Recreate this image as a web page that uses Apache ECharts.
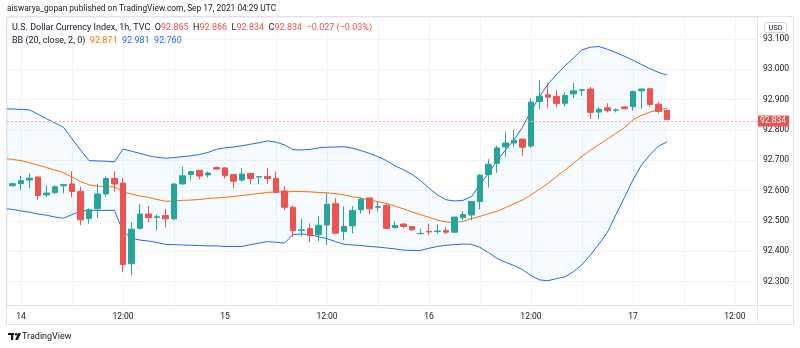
<!DOCTYPE html>
<html><head><meta charset="utf-8">
<script src="https://cdn.jsdelivr.net/npm/echarts@6/dist/echarts.min.js"></script>
<style>html,body{margin:0;padding:0;background:#fff}#c{width:800px;height:348px}</style>
</head><body><div id="c"></div>
<script>
// ---- data (hourly bars, first bar = 2021-09-13 22:00 UTC) ----
const firstBar = '2021-09-13T22:00:00Z';
const open = [92.619,92.616,92.623,92.635,92.645,92.586,92.594,92.616,92.622,92.597,92.508,92.540,92.589,92.640,92.625,92.359,92.476,92.523,92.512,92.518,92.507,92.622,92.653,92.667,92.652,92.676,92.675,92.653,92.635,92.657,92.645,92.647,92.640,92.599,92.545,92.469,92.475,92.455,92.487,92.557,92.465,92.484,92.537,92.576,92.545,92.551,92.478,92.490,92.482,92.458,92.466,92.465,92.469,92.463,92.511,92.520,92.564,92.653,92.690,92.744,92.757,92.770,92.747,92.894,92.916,92.911,92.888,92.919,92.931,92.935,92.859,92.873,92.865,92.876,92.877,92.929,92.936,92.885,92.865];
const high = [92.620,92.625,92.649,92.656,92.646,92.618,92.617,92.622,92.664,92.613,92.542,92.622,92.646,92.664,92.642,92.495,92.556,92.549,92.521,92.540,92.623,92.679,92.664,92.668,92.663,92.680,92.677,92.655,92.675,92.658,92.648,92.675,92.663,92.615,92.552,92.507,92.492,92.516,92.592,92.575,92.548,92.549,92.578,92.577,92.565,92.560,92.498,92.493,92.483,92.474,92.491,92.489,92.480,92.514,92.532,92.565,92.655,92.704,92.749,92.793,92.800,92.771,92.905,92.965,92.954,92.932,92.924,92.955,92.934,92.942,92.876,92.888,92.871,92.878,92.930,92.936,92.938,92.892,92.866];
const low = [92.611,92.614,92.603,92.608,92.570,92.578,92.589,92.591,92.578,92.486,92.491,92.510,92.580,92.597,92.331,92.320,92.472,92.495,92.468,92.479,92.503,92.620,92.635,92.637,92.643,92.670,92.640,92.608,92.630,92.621,92.621,92.622,92.593,92.536,92.448,92.448,92.430,92.433,92.421,92.459,92.437,92.459,92.524,92.522,92.532,92.473,92.476,92.476,92.467,92.457,92.454,92.459,92.457,92.461,92.503,92.502,92.538,92.611,92.659,92.712,92.745,92.715,92.741,92.869,92.873,92.874,92.878,92.905,92.913,92.836,92.836,92.858,92.858,92.869,92.864,92.870,92.877,92.855,92.834];
const close = [92.613,92.623,92.633,92.641,92.584,92.592,92.613,92.620,92.597,92.504,92.537,92.589,92.640,92.622,92.357,92.473,92.523,92.511,92.514,92.507,92.622,92.649,92.663,92.648,92.658,92.671,92.649,92.631,92.655,92.640,92.646,92.640,92.594,92.545,92.468,92.471,92.452,92.486,92.555,92.460,92.482,92.535,92.571,92.540,92.547,92.475,92.485,92.482,92.471,92.459,92.464,92.467,92.463,92.513,92.521,92.564,92.651,92.687,92.741,92.757,92.766,92.743,92.892,92.911,92.908,92.887,92.914,92.929,92.933,92.858,92.868,92.864,92.866,92.870,92.927,92.935,92.884,92.861,92.834];
const bbBasis = [92.707,92.703,92.699,92.692,92.684,92.676,92.668,92.659,92.645,92.630,92.619,92.615,92.613,92.612,92.596,92.589,92.582,92.578,92.571,92.565,92.566,92.568,92.569,92.571,92.574,92.576,92.578,92.581,92.584,92.587,92.591,92.594,92.596,92.596,92.597,92.597,92.596,92.594,92.593,92.590,92.586,92.580,92.575,92.569,92.564,92.558,92.549,92.540,92.530,92.521,92.512,92.503,92.497,92.495,92.499,92.508,92.515,92.524,92.532,92.544,92.557,92.569,92.586,92.605,92.624,92.646,92.668,92.690,92.713,92.733,92.752,92.770,92.789,92.808,92.833,92.848,92.859,92.867,92.871];
const bbUpper = [92.870,92.869,92.868,92.866,92.852,92.837,92.823,92.809,92.771,92.734,92.699,92.698,92.697,92.695,92.737,92.730,92.723,92.715,92.710,92.707,92.709,92.712,92.715,92.719,92.726,92.736,92.741,92.744,92.748,92.753,92.758,92.764,92.760,92.751,92.735,92.734,92.736,92.741,92.743,92.744,92.745,92.740,92.732,92.723,92.712,92.699,92.682,92.669,92.654,92.633,92.609,92.586,92.570,92.566,92.568,92.580,92.621,92.657,92.698,92.734,92.767,92.809,92.862,92.909,92.951,92.982,93.011,93.037,93.064,93.073,93.075,93.066,93.055,93.043,93.030,93.016,93.002,92.990,92.981];
const bbLower = [92.541,92.538,92.533,92.529,92.523,92.519,92.513,92.509,92.521,92.533,92.535,92.535,92.535,92.535,92.465,92.444,92.437,92.434,92.429,92.423,92.422,92.421,92.420,92.419,92.418,92.418,92.416,92.416,92.416,92.422,92.427,92.432,92.430,92.427,92.455,92.457,92.455,92.448,92.442,92.432,92.423,92.421,92.419,92.416,92.414,92.411,92.408,92.404,92.403,92.403,92.410,92.416,92.420,92.422,92.424,92.423,92.413,92.396,92.377,92.364,92.353,92.340,92.320,92.306,92.303,92.310,92.316,92.333,92.356,92.388,92.424,92.463,92.521,92.577,92.635,92.684,92.718,92.747,92.760];
const lastPrice = 92.834;
const yTickLabels = ['92.300','92.400','92.500','92.600','92.700','92.800','92.900','93.000','93.100'];
const headerText = 'aiswarya_gopan published on TradingView.com, Sep 17, 2021 04:29 UTC';
const legendTitle = 'U.S. Dollar Currency Index, 1h, TVC';
const ohlcLegend = {O: '92.865', H: '92.866', L: '92.834', C: '92.834', chg: '\u22120.027 (\u22120.03%)'};
const bbLegend = {name: 'BB (20, close, 2, 0)', basis: '92.871', upper: '92.981', lower: '92.760'};

// ---- build ----
const HOUR = 3600e3;
const t0 = Date.parse(firstBar);
const times = open.map((_, i) => t0 + i * HOUR);
const day14 = Date.parse('2021-09-14T00:00:00Z');
const candles = times.map((t, i) => [t, open[i], close[i], low[i], high[i]]);
const lowerData = times.map((t, i) => [t, bbLower[i]]);
const bandData = times.map((t, i) => [t, +(bbUpper[i] - bbLower[i]).toFixed(4)]);
const basisData = times.map((t, i) => [t, bbBasis[i]]);

const FONT = 'Roboto, "Liberation Sans", sans-serif';
const UP = '#26a69a', DOWN = '#ef5350';
const chart = echarts.init(document.getElementById('c'), null, {renderer: 'canvas'});
chart.setOption({
  animation: false,
  useUTC: true,
  backgroundColor: '#ffffff',
  textStyle: {fontFamily: FONT},
  grid: {left: 7, right: 43, top: 17, bottom: 43, containLabel: false, outerBoundsMode: 'none'},
  xAxis: {
    type: 'time',
    min: day14 - 1.65 * HOUR,
    max: day14 + 86.6 * HOUR,
    minInterval: 12 * HOUR, maxInterval: 12 * HOUR,
    axisLine: {show: false}, axisTick: {show: false},
    axisLabel: {
      showMinLabel: false, showMaxLabel: false,
      fontSize: 8.5, color: '#131722', margin: 7, fontFamily: FONT, hideOverlap: false,
      formatter: function (v) {
        const d = new Date(v);
        if (d.getUTCMinutes() !== 0) return '';
        const h = d.getUTCHours();
        if (h === 0) return String(d.getUTCDate());
        if (h === 12) return '12:00';
        return '';
      }
    },
    splitLine: {show: true, lineStyle: {color: '#f0f3fa', width: 1}}
  },
  yAxis: {
    type: 'value', position: 'right', scale: true,
    min: 92.2231, max: 93.1724, splitNumber: 9,
    axisLine: {show: false}, axisTick: {show: false},
    axisLabel: {
      showMinLabel: false, showMaxLabel: false,
      fontSize: 8.5, color: '#131722', margin: 6, fontFamily: FONT,
      formatter: function (v) {
        const s = v.toFixed(3);
        return yTickLabels.indexOf(s) >= 0 ? s : '';
      }
    },
    splitLine: {show: true, lineStyle: {color: '#f0f3fa', width: 1}}
  },
  series: [
    {
      name: 'lower', type: 'line', data: lowerData, stack: 'bb', symbol: 'none', z: 2,
      lineStyle: {color: '#2962ff', width: 1}, silent: true
    },
    {
      name: 'upper', type: 'line', data: bandData, stack: 'bb', symbol: 'none', z: 2,
      lineStyle: {color: '#2962ff', width: 1}, silent: true,
      areaStyle: {color: 'rgba(33,150,243,0.055)'}
    },
    {
      name: 'basis', type: 'line', data: basisData, symbol: 'none', z: 2,
      lineStyle: {color: '#ff6d00', width: 1}, silent: true
    },
    {
      name: 'DXY', type: 'candlestick', data: candles, encode: {x: 0, y: [1, 2, 3, 4]},
      barWidth: 6, z: 3,
      itemStyle: {color: UP, color0: DOWN, borderColor: UP, borderColor0: DOWN, borderWidth: 1},
      markLine: {
        silent: true, symbol: ['none', 'none'], animation: false,
        data: [{yAxis: lastPrice}],
        lineStyle: {color: '#f6a3a1', type: [2, 2], width: 1, opacity: 1},
        label: {
          show: true, position: 'end', distance: 0,
          formatter: lastPrice.toFixed(3),
          color: '#ffffff', backgroundColor: DOWN, padding: [1, 3, 1, 3],
          fontSize: 8.5, fontFamily: FONT
        },
        emphasis: {disabled: true}
      }
    }
  ],
  graphic: [
    {type: 'rect', silent: true, z: 100, shape: {x: 6.5, y: 16.5, width: 787, height: 308},
      style: {fill: 'none', stroke: '#e0e3eb', lineWidth: 1}},
    {type: 'line', silent: true, z: 100, shape: {x1: 757.5, y1: 17, x2: 757.5, y2: 324},
      style: {stroke: '#e0e3eb', lineWidth: 1}},
    {type: 'line', silent: true, z: 100, shape: {x1: 7, y1: 305.5, x2: 793, y2: 305.5},
      style: {stroke: '#e0e3eb', lineWidth: 1}},
    {type: 'rect', silent: true, z: 100, shape: {x: 764.5, y: 22.5, width: 22, height: 10, r: 2},
      style: {fill: '#ffffff', stroke: '#d1d4dc', lineWidth: 1}},
    {type: 'text', silent: true, z: 101, x: 775.5, y: 28,
      style: {text: 'USD', fill: '#131722', fontSize: 7.5, fontFamily: FONT, align: 'center', verticalAlign: 'middle'}},
    {type: 'text', silent: true, z: 101, x: 7, y: 8.5,
      style: {text: headerText, fill: '#131722', fontSize: 8.4, fontFamily: FONT, verticalAlign: 'middle'}},
    {type: 'text', silent: true, z: 101, x: 12, y: 28,
      style: {
        text: legendTitle + '  {k|O}{r|' + ohlcLegend.O + '}  {k|H}{r|' + ohlcLegend.H + '}  {k|L}{r|' + ohlcLegend.L + '}  {k|C}{r|' + ohlcLegend.C + '}  {r|' + ohlcLegend.chg + '}',
        fill: '#131722', fontSize: 9, fontFamily: FONT, verticalAlign: 'middle',
        rich: {k: {fill: '#131722', fontSize: 9, fontFamily: FONT}, r: {fill: '#ef5350', fontSize: 9, fontFamily: FONT}}
      }},
    {type: 'text', silent: true, z: 101, x: 12, y: 41,
      style: {
        text: bbLegend.name + '  {o|' + bbLegend.basis + '}  {b|' + bbLegend.upper + '}  {b|' + bbLegend.lower + '}',
        fill: '#131722', fontSize: 9, fontFamily: FONT, verticalAlign: 'middle',
        rich: {o: {fill: '#ff6d00', fontSize: 9, fontFamily: FONT}, b: {fill: '#2962ff', fontSize: 9, fontFamily: FONT}}
      }},
    // TradingView logo mark
    {type: 'rect', silent: true, z: 101, shape: {x: 8, y: 333, width: 6, height: 2}, style: {fill: '#131722'}},
    {type: 'rect', silent: true, z: 101, shape: {x: 11, y: 333, width: 2.2, height: 7}, style: {fill: '#131722'}},
    {type: 'circle', silent: true, z: 101, shape: {cx: 16, cy: 334.2, r: 1.2}, style: {fill: '#131722'}},
    {type: 'polygon', silent: true, z: 101, shape: {points: [[18, 333], [21, 333], [17.8, 340], [15.2, 340]]}, style: {fill: '#131722'}},
    {type: 'text', silent: true, z: 101, x: 22, y: 337,
      style: {text: 'TradingView', fill: '#131722', fontSize: 9, fontFamily: FONT, verticalAlign: 'middle'}}
  ]
});
</script>
</body></html>
